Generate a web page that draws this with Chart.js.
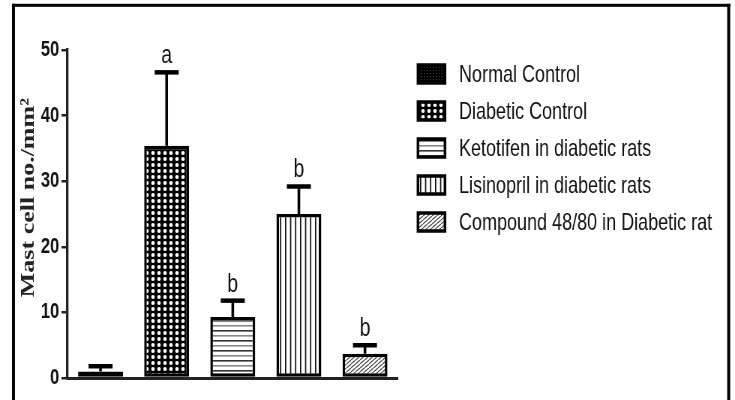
<!DOCTYPE html>
<html>
<head>
<meta charset="utf-8">
<script src="https://cdn.jsdelivr.net/npm/chart.js@4/dist/chart.umd.min.js"></script>
<style>
  html, body { margin: 0; padding: 0; background: #fff; overflow: hidden; }
  /* the figure is laid out on a wider canvas and condensed horizontally */
  #wrap { width: 980px; height: 400px; transform: scaleX(0.75); transform-origin: 0 0; }
</style>
</head>
<body>
<div id="wrap"><canvas id="c" width="980" height="400"></canvas></div>
<script>
// Treatment groups and mast cell counts (mean and SEM, cells/mm²)
const groups = [
  'Normal Control',
  'Diabetic Control',
  'Ketotifen in diabetic rats',
  'Lisinopril in diabetic rats',
  'Compound 48/80 in Diabetic rat'
];
const meanCells = [1.0, 35.4, 9.3, 25.0, 3.7];
const semCells = [0.8, 11.2, 2.5, 4.2, 1.3];
const sigLetters = ['', 'a', 'b', 'b', 'b'];
const yTicks = [0, 10, 20, 30, 40, 50];
const yTitle = 'Mast cell no./mm\u00B2';

// ---- fill patterns ----
function makePattern(w, h, draw) {
  const c = document.createElement('canvas');
  c.width = w; c.height = h;
  const g = c.getContext('2d');
  draw(g, w, h);
  return g.createPattern(c, 'repeat');
}
const ctxMain = document.getElementById('c').getContext('2d');

const patNormal = makePattern(4, 3, (g, w, h) => {
  g.fillStyle = '#000'; g.fillRect(0, 0, w, h);
  g.fillStyle = '#666'; g.fillRect(1, 1, 1, 1);
});
const patDiabetic = makePattern(8, 6, (g, w, h) => {
  g.fillStyle = '#000'; g.fillRect(0, 0, w, h);
  g.fillStyle = '#fff';
  g.beginPath(); g.ellipse(4, 3, 2.4, 1.9, 0, 0, Math.PI * 2); g.fill();
});
const patKetotifen = makePattern(4, 10, (g, w, h) => {
  g.fillStyle = '#fff'; g.fillRect(0, 0, w, h);
  g.fillStyle = '#333'; g.fillRect(0, 0, w, 1.6);
  g.fillStyle = '#888'; g.fillRect(0, 5, w, 1.6);
});
const patLisinopril = makePattern(20, 4, (g, w, h) => {
  g.fillStyle = '#fff'; g.fillRect(0, 0, w, h);
  g.fillStyle = '#111';
  [0, 6.67, 13.33].forEach(x => g.fillRect(x, 0, 1.7, h));
});
const patCompound = makePattern(6, 4, (g, w, h) => {
  g.fillStyle = '#fff'; g.fillRect(0, 0, w, h);
  g.strokeStyle = '#444'; g.lineWidth = 1.2;
  for (let k = -1; k <= 1; k++) {
    g.beginPath(); g.moveTo(k * w, h); g.lineTo(k * w + w, 0); g.stroke();
  }
});
const fills = [patNormal, patDiabetic, patKetotifen, patLisinopril, patCompound];

// ---- error bars, letters, legend, frame and axis title ----
const decorations = {
  id: 'decorations',
  afterDatasetsDraw(chart) {
    const { ctx, scales: { y } } = chart;
    const meta = chart.getDatasetMeta(0);
    ctx.save();
    ctx.fillStyle = '#000';
    meta.data.forEach((bar, i) => {
      const x = bar.x;
      const yBar = y.getPixelForValue(meanCells[i]);
      const yTop = y.getPixelForValue(meanCells[i] + semCells[i]);
      ctx.fillRect(x - 1.8, yTop, 3.6, yBar - yTop);
      ctx.fillRect(x - 16, yTop - 2.2, 32, 4.5);
      if (sigLetters[i]) {
        ctx.font = '26px "Liberation Sans", Arial, sans-serif';
        ctx.textAlign = 'center';
        ctx.textBaseline = 'alphabetic';
        ctx.fillStyle = '#111';
        ctx.fillText(sigLetters[i], x, yTop - 9);
        ctx.fillStyle = '#000';
      }
    });
    ctx.restore();
  },
  afterDraw(chart) {
    const { ctx, scales: { y } } = chart;
    ctx.save();
    // frame
    ctx.fillStyle = '#000';
    ctx.fillRect(16, 3.8, 4, 400);
    ctx.fillRect(16, 3.8, 958, 3);
    ctx.fillRect(969.6, 3.8, 4, 400);

    // y-axis title
    ctx.translate(38.7, y.getPixelForValue(27.5));
    ctx.rotate(-Math.PI / 2);
    ctx.font = 'bold 26px "Liberation Serif", "Times New Roman", serif';
    ctx.textAlign = 'center';
    ctx.textBaseline = 'middle';
    ctx.fillStyle = '#222';
    ctx.fillText(yTitle, 0, 0);
    ctx.restore();

    // legend
    ctx.save();
    const rowY0 = 74, rowStep = 37;
    groups.forEach((label, i) => {
      const cy = rowY0 + i * rowStep;
      ctx.fillStyle = fills[i];
      ctx.fillRect(557.3, cy - 9, 36, 18);
      ctx.strokeStyle = '#000';
      ctx.lineWidth = 3.5;
      ctx.strokeRect(557.3, cy - 9, 36, 18);
      ctx.fillStyle = '#111';
      ctx.font = '24px "Liberation Sans", Arial, sans-serif';
      ctx.textAlign = 'left';
      ctx.textBaseline = 'middle';
      ctx.fillText(label, 612, cy + 1);
    });
    ctx.restore();
  }
};

new Chart(ctxMain, {
  type: 'bar',
  data: {
    labels: groups,
    datasets: [{
      data: meanCells,
      backgroundColor: fills,
      borderColor: '#000',
      borderWidth: 3.5,
      borderSkipped: false,
      categoryPercentage: 1,
      barPercentage: 0.68
    }]
  },
  options: {
    responsive: false,
    devicePixelRatio: 1,
    animation: false,
    layout: { padding: { left: 0, right: 449.3, top: 50, bottom: 22 } },
    plugins: { legend: { display: false }, tooltip: { enabled: false } },
    scales: {
      x: {
        grid: { display: false },
        ticks: { display: false },
        border: { display: true, color: '#222', width: 3 },
        afterFit(scale) { scale.height = 0; }
      },
      y: {
        min: yTicks[0],
        max: yTicks[yTicks.length - 1],
        afterBuildTicks(scale) { scale.ticks = yTicks.map(v => ({ value: v })); },
        afterFit(scale) { scale.width = 90; },
        grid: {
          display: true,
          drawOnChartArea: false,
          drawTicks: true,
          tickLength: 8,
          color: '#222',
          lineWidth: 2.5
        },
        border: { display: true, color: '#222', width: 3.3 },
        ticks: {
          padding: 3,
          color: '#111',
          font: { family: '"Liberation Sans", Arial, sans-serif', size: 22, weight: 'bold' }
        }
      }
    }
  },
  plugins: [decorations]
});
</script>
</body>
</html>
